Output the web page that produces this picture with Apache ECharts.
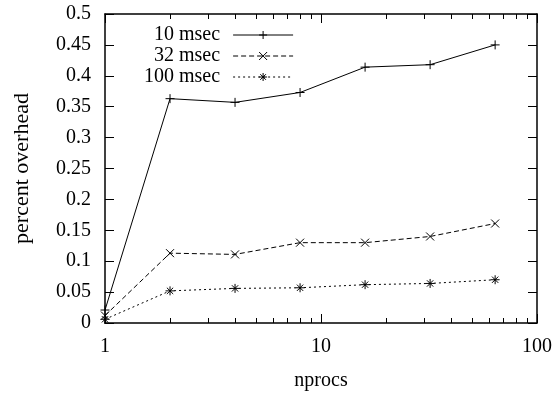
<!DOCTYPE html>
<html><head><meta charset="utf-8">
<script src="https://cdn.jsdelivr.net/npm/echarts@6/dist/echarts.min.js"></script>
<style>html,body{margin:0;padding:0;background:#fff}#c{width:558px;height:396px}</style>
</head><body><div id="c"></div>
<script>
const nprocs = [1, 2, 4, 8, 16, 32, 64];
const seriesNames = ['10 msec', '32 msec', '100 msec'];
const v10 = [0.021, 0.363, 0.357, 0.373, 0.414, 0.418, 0.450];
const v32 = [0.012, 0.113, 0.111, 0.130, 0.130, 0.140, 0.161];
const v100 = [0.006, 0.052, 0.056, 0.057, 0.062, 0.064, 0.070];
const xMajorTicks = [1, 10, 100];
const xMinorTicks = [2,3,4,5,6,7,8,9,20,30,40,50,60,70,80,90];

const FONT = 'Liberation Serif';
const plus = 'path://M0,5L10,5M5,0L5,10';
const cross = 'path://M0,0L10,10M10,0L0,10';
const star = 'path://M0,5L10,5M5,0L5,10M1.5,1.5L8.5,8.5M8.5,1.5L1.5,8.5';

function xAx(pos, ticks, len, labels, line) {
  return {
    type: 'log', logBase: 10, min: 1, max: 100, position: pos,
    axisLine: {show: line, onZero: false, lineStyle: {color: '#000', width: 1.5}},
    axisTick: {show: true, inside: true, length: len, customValues: ticks, lineStyle: {color: '#000', width: 1}},
    axisLabel: labels ? {show: true, customValues: xMajorTicks, color: '#000', fontFamily: FONT, fontSize: 20, margin: 14} : {show: false},
    splitLine: {show: false}, minorTick: {show: false}
  };
}
function mk(name, data, sym, size, type) {
  return {
    name: name, type: 'line', xAxisIndex: 0, yAxisIndex: 0,
    data: nprocs.map((x, i) => [x, data[i]]),
    symbol: sym, symbolSize: size, showSymbol: true,
    lineStyle: {color: '#000', width: 1, type: type},
    itemStyle: {color: 'rgba(0,0,0,0)', borderColor: '#000', borderWidth: 1},
    emphasis: {disabled: true}, animation: false
  };
}
const chart = echarts.init(document.getElementById('c'), null, {renderer: 'canvas'});
chart.setOption({
  animation: false,
  backgroundColor: '#fff',
  grid: {left: 105, right: 21, top: 14, bottom: 69, containLabel: false},
  legend: {
    orient: 'vertical', left: 139, top: 20, align: 'right',
    itemWidth: 60, itemHeight: 10, itemGap: 1,
    data: seriesNames,
    itemStyle: {color: 'rgba(0,0,0,0)', borderColor: '#000', borderWidth: 1},
    lineStyle: {color: '#000', width: 1},
    textStyle: {fontFamily: FONT, fontSize: 20, color: '#000', width: 107, align: 'right', padding: [0, 8, 0, 0]},
    selectedMode: false
  },
  xAxis: [
    Object.assign(xAx('bottom', xMajorTicks, 9, true, true), {name: 'nprocs', nameLocation: 'middle', nameGap: 48, nameTextStyle: {fontFamily: FONT, fontSize: 20, color: '#000'}}),
    xAx('bottom', xMinorTicks, 5, false, false),
    xAx('top', xMajorTicks, 9, false, true),
    xAx('top', xMinorTicks, 5, false, false)
  ],
  yAxis: [
    {type: 'value', min: 0, max: 0.5, interval: 0.05, position: 'left',
     name: 'percent overhead', nameLocation: 'middle', nameGap: 72,
     nameTextStyle: {fontFamily: FONT, fontSize: 22, color: '#000'},
     axisLine: {show: true, onZero: false, lineStyle: {color: '#000', width: 1.5}},
     axisTick: {show: true, inside: true, length: 9, lineStyle: {color: '#000'}},
     axisLabel: {color: '#000', fontFamily: FONT, fontSize: 20, margin: 14},
     splitLine: {show: false}},
    {type: 'value', min: 0, max: 0.5, interval: 0.05, position: 'right',
     axisLine: {show: true, onZero: false, lineStyle: {color: '#000', width: 1.5}},
     axisTick: {show: true, inside: true, length: 9, lineStyle: {color: '#000'}},
     axisLabel: {show: false}, splitLine: {show: false}}
  ],
  series: [
    mk(seriesNames[0], v10, plus, 9, 'solid'),
    mk(seriesNames[1], v32, cross, 8, [5, 3]),
    mk(seriesNames[2], v100, star, 9, [2, 3])
  ]
});
</script>
</body></html>
